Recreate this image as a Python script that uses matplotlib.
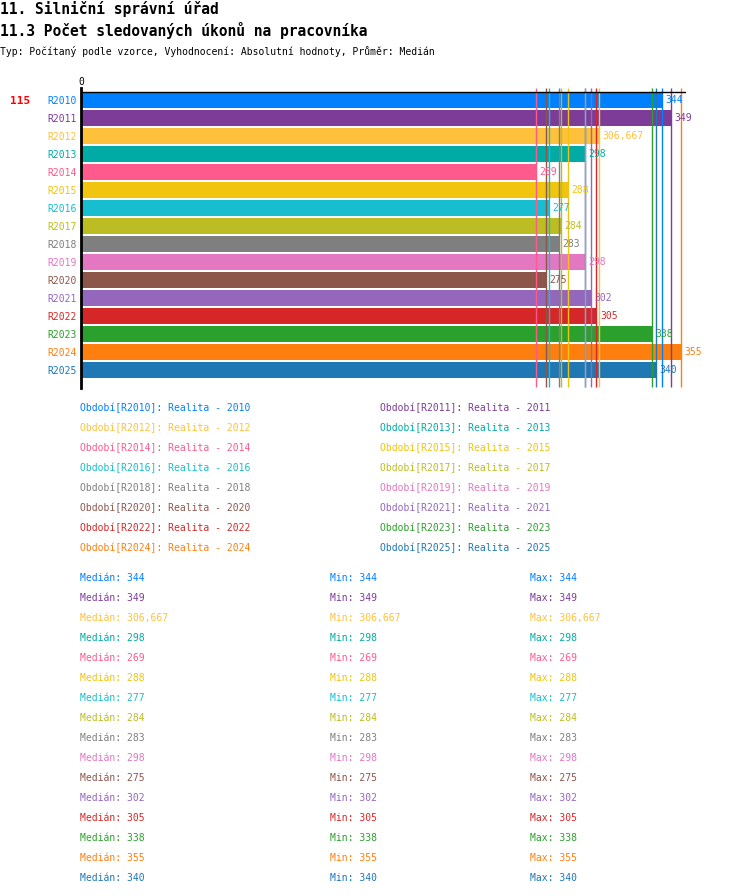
import matplotlib
matplotlib.use("Agg")
import matplotlib.pyplot as plt

categories = ["R2010", "R2011", "R2012", "R2013", "R2014", "R2015", "R2016", "R2017",
              "R2018", "R2019", "R2020", "R2021", "R2022", "R2023", "R2024", "R2025"]
values = [344, 349, 306.667, 298, 269, 288, 277, 284, 283, 298, 275, 302, 305, 338, 355, 340]
value_labels = ["344", "349", "306,667", "298", "269", "288", "277", "284", "283", "298",
                "275", "302", "305", "338", "355", "340"]
colors = ["#0080ff", "#7d3c98", "#ffc13b", "#00aba6", "#ff5a8c", "#f1c40f", "#17becf", "#bcbd22",
          "#7f7f7f", "#e377c2", "#8c564b", "#9467bd", "#d62728", "#2ca02c", "#ff7f0e", "#1f77b4"]
legend_labels = ["Období[%s]: Realita - %s" % (c, c[1:]) for c in categories]

title1 = "11. Silniční správní úřad"
title2 = "11.3 Počet sledovaných úkonů na pracovníka"
subtitle = "Typ: Počítaný podle vzorce, Vyhodnocení: Absolutní hodnoty, Průměr: Medián"
count_label = "115"

plt.rcParams['font.family'] = ['DejaVu Sans Mono']

W, H = 750, 896
fig = plt.figure(figsize=(W / 100, H / 100), dpi=100)

def fx(px):
    return px / W

def fy(py):
    return 1 - py / H

fig.text(fx(0), fy(14), title1, fontsize=10.5, fontweight='bold', va='baseline', ha='left')
fig.text(fx(0), fy(36), title2, fontsize=10.5, fontweight='bold', va='baseline', ha='left')
fig.text(fx(0), fy(55), subtitle, fontsize=7, va='baseline', ha='left')

# axes: left 81, right 686, top 88, bottom 388
ax = fig.add_axes([fx(81), fy(388), (686 - 81) / W, 300 / H])
n = len(categories)
ypos = list(range(n))
ax.barh(ypos, values, height=0.88, color=colors, zorder=2)
ax.vlines(values, -0.68, 15.95, colors=colors, linewidth=1, zorder=3)
ax.set_xlim(0, 358)
ax.set_ylim(16.0, -0.667)
ax.axhline(-0.45, color='black', linewidth=1, zorder=4)
for s in ['top', 'right', 'bottom']:
    ax.spines[s].set_visible(False)
ax.spines['left'].set_linewidth(2)
ax.spines['left'].set_zorder(5)
ax.set_xticks([])
ax.set_yticks(ypos)
ax.set_yticklabels(categories, fontsize=7)
for lab, c in zip(ax.get_yticklabels(), colors):
    lab.set_color(c)
ax.tick_params(axis='y', length=0, pad=3)
for y, v, t, c in zip(ypos, values, value_labels, colors):
    ax.annotate(t, (v, y), xytext=(2.5, 0), textcoords='offset points',
                va='center', ha='left', fontsize=7, color=c, zorder=6)
ax.text(0, -0.75, "0", fontsize=7, ha='center', va='bottom')
fig.text(fx(10), fy(101), count_label, fontsize=8, fontweight='bold', color='red',
         va='center', ha='left')

# legend
for i, (lab, c) in enumerate(zip(legend_labels, colors)):
    col = i % 2
    row = i // 2
    fig.text(fx(80 if col == 0 else 380), fy(408 + 20 * row), lab, fontsize=7,
             color=c, va='center', ha='left')

# stats
for i, (t, c) in enumerate(zip(value_labels, colors)):
    y = fy(578 + 20 * i)
    fig.text(fx(80), y, "Medián: " + t, fontsize=7, color=c, va='center', ha='left')
    fig.text(fx(330), y, "Min: " + t, fontsize=7, color=c, va='center', ha='left')
    fig.text(fx(530), y, "Max: " + t, fontsize=7, color=c, va='center', ha='left')

fig.savefig("out.png", dpi=100)
